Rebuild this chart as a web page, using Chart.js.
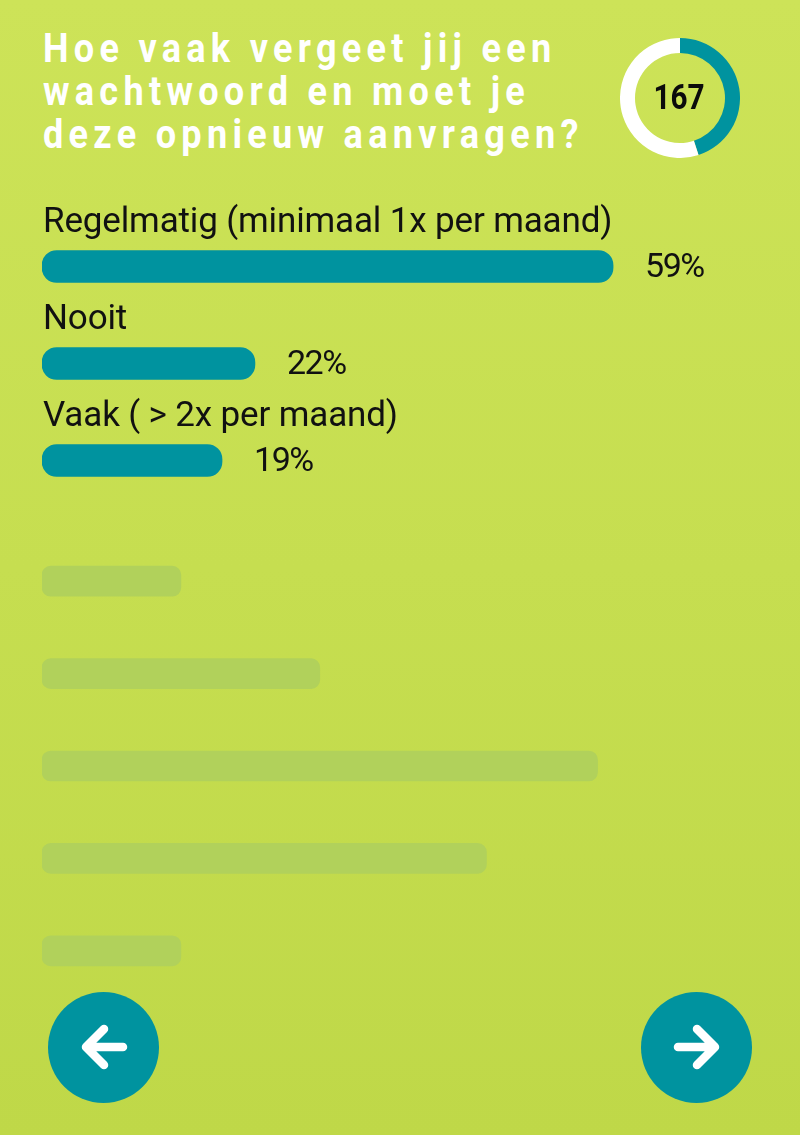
<!DOCTYPE html>
<html lang="nl">
<head>
<meta charset="utf-8">
<title>Hoe vaak vergeet jij een wachtwoord</title>
<script src="https://cdn.jsdelivr.net/npm/chart.js@4/dist/chart.umd.min.js"></script>
<style>
  html, body { margin: 0; padding: 0; }
  body {
    position: relative;
    width: 800px;
    height: 1135px;
    overflow: hidden;
    background: linear-gradient(180deg, #cde358 0%, #c6de50 50%, #bfd848 100%);
    font-family: 'Roboto', sans-serif;
  }
  canvas { position: absolute; display: block; }
  #title {
    position: absolute;
    left: 43px;
    top: 27px;
    margin: 0;
    font-size: 41px;
    line-height: 43px;
    font-weight: 700;
    letter-spacing: 6px;
    color: #fff;
    white-space: nowrap;
    transform: scaleX(0.88);
    transform-origin: left top;
  }
  #total {
    position: absolute;
    left: 619px;
    top: 38px;
    width: 120px;
    height: 120px;
    line-height: 120px;
    text-align: center;
    font-size: 35px;
    font-weight: 700;
    color: #0b0b0b;
    transform: scaleX(0.85);
  }
  .nav { position: absolute; top: 992px; width: 111px; height: 111px; }
</style>
</head>
<body>
<h1 id="title">Hoe vaak vergeet jij een<br>wachtwoord en moet je<br>deze opnieuw aanvragen?</h1>

<canvas id="ring-chart" style="left:620px;top:38px;width:120px;height:120px"></canvas>
<div id="total">167</div>

<canvas id="answer-chart" style="left:42px;top:198px;width:755px;height:311px"></canvas>
<canvas id="ghost-chart" style="left:42px;top:535px;width:750px;height:462px"></canvas>

<svg class="nav" style="left:48px" viewBox="0 0 111 111">
  <circle cx="55.5" cy="55.5" r="55.5" fill="#00939f"/>
  <path d="M75 55H38M56 37L38 55L56 73" fill="none" stroke="#fff" stroke-width="8.5" stroke-linecap="round" stroke-linejoin="round"/>
</svg>
<svg class="nav" style="left:641px" viewBox="0 0 111 111">
  <circle cx="55.5" cy="55.5" r="55.5" fill="#00939f"/>
  <path d="M37 55H74M56 37L74 55L56 73" fill="none" stroke="#fff" stroke-width="8.5" stroke-linecap="round" stroke-linejoin="round"/>
</svg>

<script>
// ========== Data ==========

const answerLabels = ['Regelmatig (minimaal 1x per maand)', 'Nooit', 'Vaak ( > 2x per maand)'];
const answerValues = [59, 22, 18.6];
const answerPercents = ['59%', '22%', '19%'];

const ghostLabels = ['a', 'b', 'c', 'd', 'e'];
const ghostValues = [25, 50, 100, 80, 25];

const ringLabels = ['Ingevuld', 'Rest'];
const ringValues = [45, 55];

// ========== Colours ==========

const TEAL = '#00939f';
const GHOST = '#b1d15b';
const INK = '#111111';

Chart.defaults.animation = false;
Chart.defaults.responsive = false;

function sizeCanvas(id) {
  const canvas = document.getElementById(id);
  canvas.width = parseInt(canvas.style.width);
  canvas.height = parseInt(canvas.style.height);
  return canvas;
}

// ========== Answer labels ==========

const answerText = {
  id: 'answerText',
  afterDatasetsDraw(chart) {
    const ctx = chart.ctx;
    const bars = chart.getDatasetMeta(0).data;
    ctx.save();
    ctx.fillStyle = INK;
    ctx.textBaseline = 'alphabetic';
    ctx.textAlign = 'left';
    bars.forEach((bar, i) => {
      ctx.font = "35px 'Roboto', sans-serif";
      ctx.letterSpacing = '-0.15px';
      ctx.fillText(answerLabels[i], 1, bar.y - 35);
      ctx.font = "34px 'Roboto', sans-serif";
      ctx.letterSpacing = '-1.5px';
      ctx.fillText(answerPercents[i], bar.x + 32, bar.y + 10);
    });
    ctx.restore();
  },
};

// ========== Charts ==========

new Chart(sizeCanvas('ring-chart'), {
  type: 'doughnut',
  data: {
    labels: ringLabels,
    datasets: [{
      data: ringValues,
      backgroundColor: [TEAL, '#ffffff'],
      borderWidth: 0,
    }],
  },
  options: {
    cutout: '75%',
    plugins: { legend: { display: false }, tooltip: { enabled: false } },
  },
});

new Chart(sizeCanvas('answer-chart'), {
  type: 'bar',
  data: {
    labels: answerLabels,
    datasets: [{
      data: answerValues,
      backgroundColor: TEAL,
      barThickness: 32,
      borderRadius: 15,
      borderSkipped: false,
    }],
  },
  options: {
    indexAxis: 'y',
    layout: { padding: { top: 20 } },
    scales: {
      x: { display: false, min: 0, max: 78 },
      y: { display: false },
    },
    plugins: { legend: { display: false }, tooltip: { enabled: false } },
  },
  plugins: [answerText],
});

new Chart(sizeCanvas('ghost-chart'), {
  type: 'bar',
  data: {
    labels: ghostLabels,
    datasets: [{
      data: ghostValues,
      backgroundColor: GHOST,
      barThickness: 30,
      borderRadius: 9,
      borderSkipped: false,
    }],
  },
  options: {
    indexAxis: 'y',
    scales: {
      x: { display: false, min: 0, max: 135 },
      y: { display: false },
    },
    plugins: { legend: { display: false }, tooltip: { enabled: false } },
  },
});
</script>
</body>
</html>
